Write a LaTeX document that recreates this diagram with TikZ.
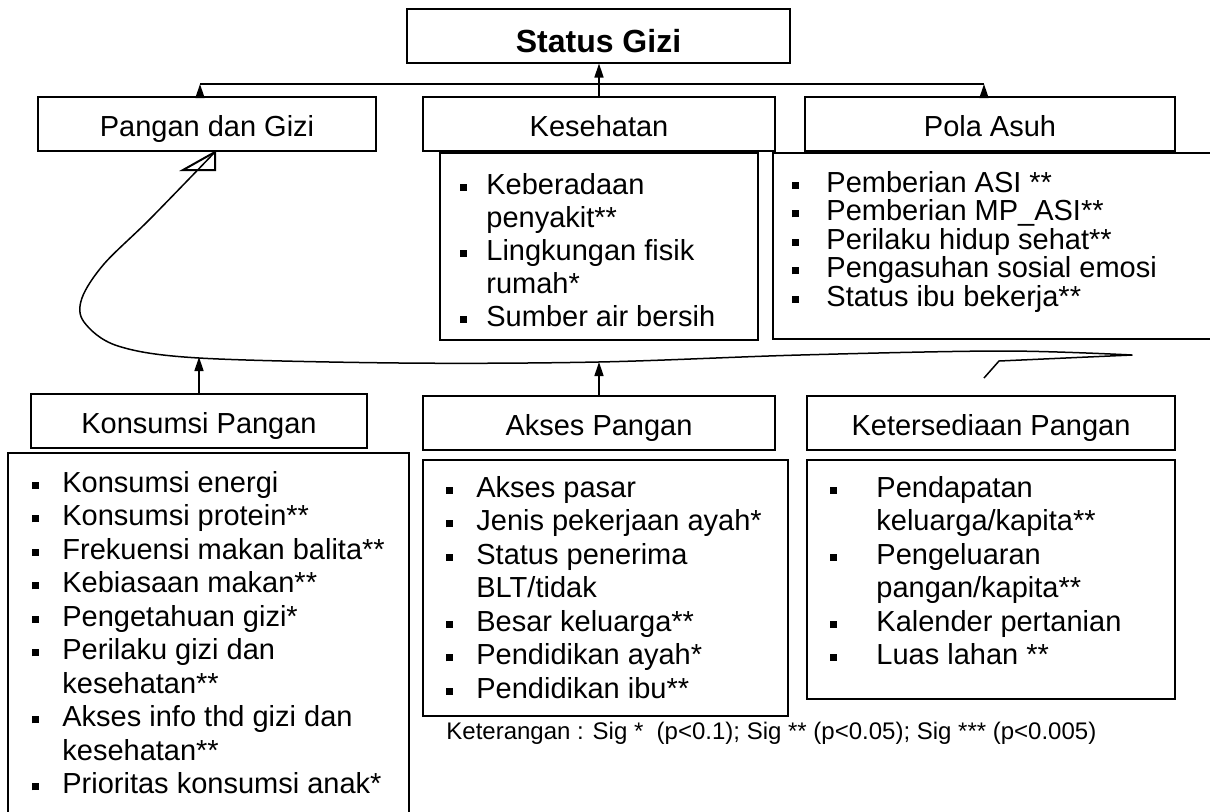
\documentclass[tikz,border=0pt]{standalone}
\usepackage{fontspec}
\setmainfont{Liberation Sans}
\usetikzlibrary{arrows.meta}
\lineskiplimit=-20pt

\newcommand\sqb{\rule[0.12em]{0.24em}{0.24em}}
\newcommand\bl{\makebox[\bw][l]{\sqb}}
\newcommand\hang{\hspace*{\bw}}

\begin{document}
\begin{tikzpicture}[x=0.5pt,y=-0.5pt,
		hbox/.style={draw, line width=1pt, inner sep=0pt, minimum height=27pt, text height=12.4pt, text depth=0pt, font=\fontsize{14.5}{17}\selectfont},
		lbox/.style={line width=1pt},
		arr/.style={line width=0.75pt, -{Triangle[length=7pt,width=4.5pt]}},
		lst/.style={anchor=north west, inner sep=0pt, align=left, /utils/exec={\def\bw{#1}}}]
		\useasboundingbox (0,0) rectangle (1210,811);

		% kotak judul
		\node[hbox, minimum width=191.5pt, text height=17pt, font=\bfseries\fontsize{16}{19}\selectfont] (status) at (598.5,35.5) {Status Gizi};
		\node[hbox, minimum width=169pt] (pangan) at (207,124) {Pangan dan Gizi};
		\node[hbox, minimum width=176pt] (kes) at (599,124) {Kesehatan};
		\node[hbox, minimum width=185pt] (pola) at (990,124) {Pola Asuh};
		\node[hbox, minimum width=168pt] (kons) at (199,421) {Konsumsi Pangan};
		\node[hbox, minimum width=176pt] (akses) at (599,423) {Akses Pangan};
		\node[hbox, minimum width=184pt] (keter) at (991,423) {Ketersediaan Pangan};

		% kotak daftar
		\draw[lbox] (440,153) rectangle (758,340);
		\draw[lbox] (1212,153) -- (773,153) -- (773,339) -- (1212,339);
		\draw[lbox] (8,813) -- (8,453) -- (409,453) -- (409,813);
		\draw[lbox] (423,460) rectangle (788,716);
		\draw[lbox] (807,460) rectangle (1175,699);

		\node[lst=13.25pt, font=\fontsize{14.5}{16.5}\selectfont] (kesT) at (459.5,173) {\bl Keberadaan\\ \hang penyakit**\\ \bl Lingkungan fisik\\ \hang rumah*\\ \bl Sumber air bersih};
		\node[lst=17.25pt, font=\fontsize{14.5}{14.25}\selectfont] (polaT) at (791.5,171) {\bl Pemberian ASI **\\ \bl Pemberian MP\_ASI**\\ \bl Perilaku hidup sehat**\\ \bl Pengasuhan sosial emosi\\ \bl Status ibu bekerja**};
		\node[lst=15.25pt, font=\fontsize{14.5}{16.75}\selectfont] (konsT) at (31.5,471) {\bl Konsumsi energi\\ \bl Konsumsi protein**\\ \bl Frekuensi makan balita**\\ \bl Kebiasaan makan**\\ \bl Pengetahuan gizi*\\ \bl Perilaku gizi dan\\ \hang kesehatan**\\ \bl Akses info thd gizi dan\\ \hang kesehatan**\\ \bl Prioritas konsumsi anak*};
		\node[lst=15.25pt, font=\fontsize{14.5}{16.75}\selectfont] (aksesT) at (445.5,476) {\bl Akses pasar\\ \bl Jenis pekerjaan ayah*\\ \bl Status penerima\\ \hang BLT/tidak\\ \bl Besar keluarga**\\ \bl Pendidikan ayah*\\ \bl Pendidikan ibu**};
		\node[lst=23.25pt, font=\fontsize{14.5}{16.7}\selectfont] (keterT) at (829.5,476) {\bl Pendapatan\\ \hang keluarga/kapita**\\ \bl Pengeluaran\\ \hang pangan/kapita**\\ \bl Kalender pertanian\\ \bl Luas lahan **};

		\node[anchor=west, inner sep=0pt, font=\fontsize{12}{14}\selectfont] (ket) at (446,733) {Keterangan : Sig *\ \ (p<0.1); Sig ** (p<0.05); Sig *** (p<0.005)};

		% panah ke status gizi
		\coordinate (barL) at (200,84);
		\coordinate (barR) at (984,84);
		\draw[line width=0.75pt] (barL) -- (barR);
		\draw[arr] (kes.north) -- (kes.north |- status.south);
		\draw[arr] (pangan.north -| barL) -- (barL);
		\draw[arr] (pola.north -| barR) -- (barR);

		% panah bawah ke garis lengkung
		\coordinate (k1) at (199,357);
		\coordinate (k2) at (599,362);
		\draw[arr] (kons.north) -- (k1);
		\draw[arr] (akses.north) -- (k2);

		% garis lengkung ke pangan dan gizi
		\coordinate (tail) at (984,378);
		\coordinate (tip) at (215,152);
		\draw[line width=0.75pt, line join=round] (tail) -- (999,361) -- plot[smooth, tension=0.55] coordinates {(1132,355) (1003,351) (800,355) (598,362) (400,363) (199,358) (118,346) (84,322) (82,298) (104,264) (150,219) (tip)};
		\draw[line width=1pt] (tip) -- (183,170) -- (215,170) -- cycle;
		%\draw[arr] (keter.north) -- (tail);
	\end{tikzpicture}
\end{document}
